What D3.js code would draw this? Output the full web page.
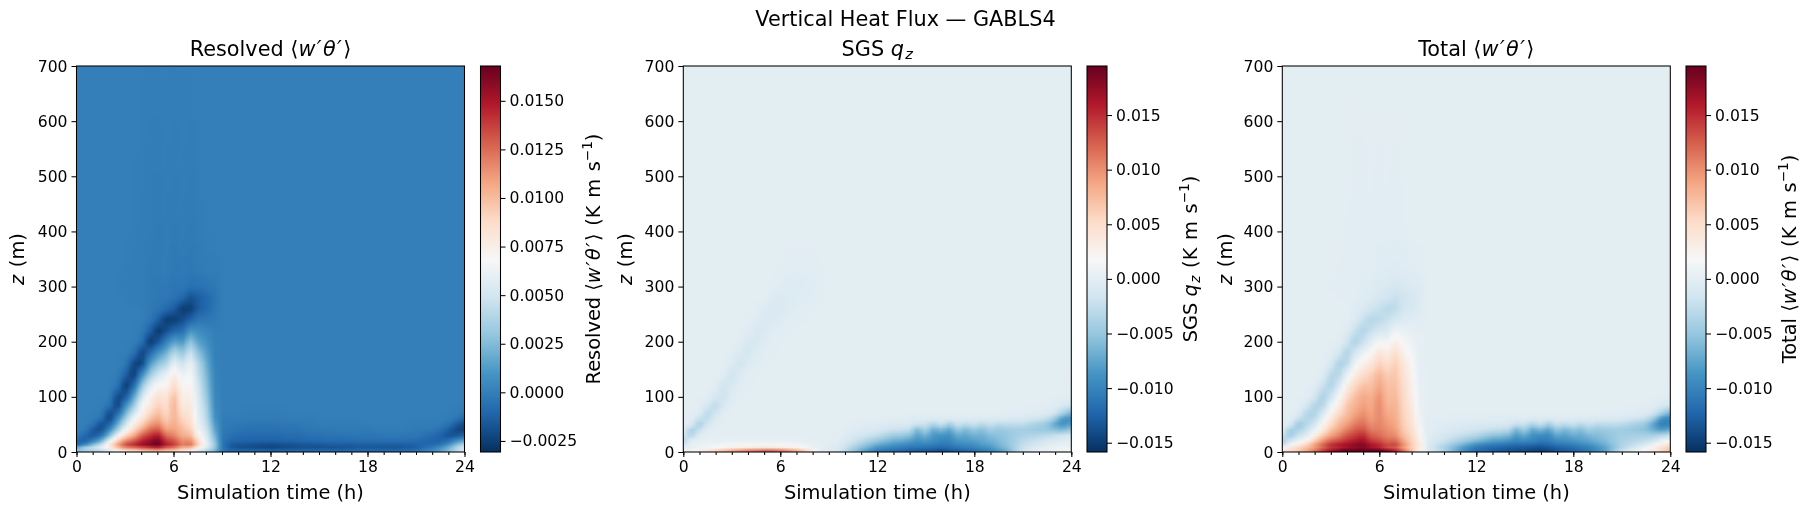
<!DOCTYPE html>
<html>
<head>
<meta charset="utf-8">
<script src="https://cdn.jsdelivr.net/npm/d3@7"></script>
<style>
  html, body { margin: 0; padding: 0; background: #fff; }
  #stage { position: relative; width: 1811px; height: 511px; overflow: hidden; }
  canvas { position: absolute; }
  svg { position: absolute; left: 0; top: 0; }
  text { font-family: "DejaVu Sans", sans-serif; fill: #000; }
</style>
</head>
<body>
<div id="stage"></div>
<script>
// Sampling axes of the flux fields
const timesHours = [0,0.5,1,1.5,2,2.5,3,3.5,4,4.5,5,5.5,6,6.5,7,7.5,8,8.5,9,9.5,10,
  11,12,13,13.5,14,14.5,15,15.5,16,16.5,17,17.5,18,18.5,19,19.5,20,21,22,22.5,23,23.5,24];
const heightsM = [0,6,12,20,30,40,50,60,70,85,100,120,140,160,180,200,220,240,260,280,300,330,400,550,700];

// Resolved flux, 1e-4 K m/s; one row per time, levels above a row's end are zero
const resolvedFlux = [
  [22,32,-10,-10,-2],
  [25,48,10,-14,-10,-2],
  [25,55,30,2,-16,-16,-5,-1],
  [30,62,50,20,-6,-20,-20,-6,-1],
  [40,72,82,60,25,5,-12,-25,-22,-4],
  [52,90,110,92,62,35,18,5,-10,-26,-22,-3],
  [62,108,135,118,88,68,50,35,22,5,-16,-28,-12,-2,0,0,0,0,0,0,-1],
  [70,110,145,130,105,88,75,66,50,30,15,-10,-28,-22,-4,0,0,0,0,-1,-1,-1],
  [78,118,155,145,128,108,92,80,72,66,50,30,5,-25,-24,-5,-1,0,0,-1,-1,-1,-1],
  [82,125,162,155,140,125,110,98,88,78,72,55,32,12,-10,-28,-12,-3,-2,-2,-2,-2,-1,-1],
  [85,132,168,165,150,132,118,108,100,92,85,70,50,28,8,-18,-28,-12,-4,-3,-3,-2,-2,-1],
  [80,118,148,140,125,110,100,92,88,84,80,70,60,38,20,0,-20,-26,-8,-3,-2,-1,-1],
  [78,112,140,132,118,110,106,104,104,104,100,88,78,60,40,15,-10,-26,-14,-5,-4,-3,-2,-1],
  [68,95,120,115,105,100,95,90,85,78,74,70,62,48,30,10,-8,-20,-26,-9,-3,-2,-1],
  [62,90,125,118,102,94,88,84,82,80,76,72,68,62,48,30,10,-12,-26,-18,-6,-3,-2,-1],
  [48,68,92,86,74,66,62,60,58,56,54,50,45,40,28,15,6,-4,-14,-14,-6,-2,-1],
  [36,50,62,60,55,50,46,42,40,36,32,28,24,20,14,8,3,-3,-10,-10,-4,-1],
  [22,30,34,30,24,18,14,10,8,6,5,4,3,2,1,1,0,-2,-4,-5,-3,-1],
  [-2,-3,-4,-4,-3,-2,-1,-1],
  [-5,-14,-16,-10,-6,-3,-2,-1],
  [-4,-18,-18,-11,-8,-5,-3,-1],
  [-4,-20,-20,-12,-9,-6,-4,-2,-1],
  [-4,-22,-22,-12,-9,-6,-4,-2,-1],
  [-4,-20,-20,-11,-8,-5,-3,-1],
  [-4,-19,-19,-11,-8,-5,-3,-1],
  [-4,-18,-18,-10,-7,-4,-2,-1],
  [-3,-18,-18,-9,-6,-3,-2,-1],
  [-3,-18,-17,-9,-6,-3,-1],
  [-3,-18,-16,-8,-5,-3,-1],
  [-3,-18,-16,-8,-5,-2,-1],
  [-3,-18,-15,-8,-5,-2,-1],
  [-3,-17,-15,-8,-4,-2,-1],
  [-3,-16,-15,-7,-4,-2,-1],
  [-3,-16,-15,-7,-4,-2],
  [-3,-16,-15,-7,-4,-1],
  [-3,-17,-15,-7,-3,-1],
  [-3,-17,-15,-7,-3,-1],
  [-3,-17,-15,-7,-3,-1],
  [0,-13,-13,-8,-4,-2,-1],
  [8,2,-8,-12,-8,-3,-1],
  [15,12,-2,-12,-12,-7,-2],
  [25,25,12,-6,-18,-14,-5,-1],
  [40,42,30,8,-16,-22,-16,-5,-1],
  [50,58,45,18,-10,-24,-22,-12,-3]
];

// Subgrid flux, 1e-4 K m/s; same layout as the resolved rows
const sgsFlux = [
  [10,2,-12,-36,-14,-2],
  [20,4,5,1,-36,-42,-7],
  [40,8,8,2,-3,-22,-44,-22,-3,-1],
  [60,14,10,3,0,-2,-12,-28,-32,-10,-1],
  [85,20,12,3,1,0,-1,-5,-16,-30,-12,-1],
  [105,26,15,4,1,0,0,0,-1,-10,-19,-17,-2],
  [125,32,18,4,1,0,0,0,0,-1,-3,-10,-19,-6,-1],
  [140,38,18,4,1,0,0,0,0,0,-1,-2,-6,-16,-7,-1],
  [155,45,18,4,1,0,0,0,0,0,0,-1,-2,-6,-14,-10,-2,-1],
  [165,48,18,4,1,0,0,0,0,0,0,0,-1,-2,-5,-11,-10,-3,-1],
  [175,50,18,4,1,0,0,0,0,0,0,0,0,-1,-2,-4,-8,-10,-4,-1],
  [175,48,18,4,1,0,0,0,0,0,0,0,0,0,-1,-2,-3,-7,-9,-4,-1],
  [165,42,18,4,1,0,0,0,0,0,0,0,0,0,0,-1,-2,-4,-8,-8,-3,-1],
  [150,36,18,4,1,0,0,0,0,0,0,0,0,0,0,0,-1,-2,-4,-6,-6,-2],
  [125,30,16,3,1,0,0,0,0,0,0,0,0,0,0,0,0,-1,-2,-4,-6,-2],
  [95,20,12,2,0,0,0,0,0,0,0,0,0,0,0,0,0,-1,-1,-3,-4,-2],
  [50,8,5,1,0,0,0,0,0,0,0,0,0,0,0,0,0,0,-1,-2,-3,-2],
  [5,1,1,0,0,0,0,0,0,0,0,0,0,0,0,0,0,0,0,-1,-2,-1],
  [-5,-3,-1],
  [-12,-8,-5,-2,-1],
  [-30,-22,-15,-8,-4,-1],
  [-75,-60,-45,-28,-14,-6,-3],
  [-115,-92,-75,-50,-25,-10,-4,-1],
  [-125,-105,-90,-70,-45,-20,-8,-3],
  [-130,-110,-95,-72,-48,-22,-8,-3],
  [-135,-115,-100,-80,-55,-28,-10,-3,-1],
  [-138,-118,-102,-90,-78,-62,-20,-4,-1],
  [-140,-118,-105,-85,-66,-42,-20,-5,-1],
  [-145,-122,-108,-92,-85,-72,-38,-6,-1],
  [-150,-125,-112,-100,-88,-62,-22,-5,-1],
  [-142,-120,-108,-98,-90,-76,-45,-7,-1],
  [-135,-115,-100,-85,-70,-48,-20,-4],
  [-130,-110,-96,-84,-75,-62,-30,-5],
  [-125,-105,-92,-80,-66,-50,-20,-6],
  [-115,-98,-84,-74,-68,-58,-32,-6],
  [-105,-90,-78,-68,-58,-42,-22,-6],
  [-90,-75,-66,-60,-55,-50,-30,-7],
  [-75,-62,-55,-52,-50,-45,-28,-8,-1],
  [-15,-20,-25,-30,-38,-42,-28,-10,-2],
  [5,0,-8,-18,-32,-48,-42,-18,-4,-1],
  [8,4,-3,-12,-28,-48,-50,-25,-6,-1],
  [12,8,3,-8,-22,-55,-75,-50,-15,-3,-1],
  [15,10,5,-3,-15,-60,-90,-90,-40,-8,-1],
  [25,12,6,0,-12,-45,-75,-90,-65,-14,-3,-1]
];

// Total flux is the sum of the two parts
const totalFlux = resolvedFlux.map((row, i) =>
  heightsM.map((_, k) => (row[k] || 0) + (sgsFlux[i][k] || 0)));

// Tick values
const timeTicks = [0, 6, 12, 18, 24];
const timeMinorTicks = d3.range(0, 25);
const heightTicks = [0, 100, 200, 300, 400, 500, 600, 700];
const resolvedColorTicks = [-0.0025, 0, 0.0025, 0.005, 0.0075, 0.01, 0.0125, 0.015];
const partColorTicks = [-0.015, -0.01, -0.005, 0, 0.005, 0.01, 0.015];

// Matplotlib RdBu_r anchor colours
const rdbuColors = ["#053061","#2166ac","#4393c3","#92c5de","#d1e5f0","#f7f7f7","#fddbc7","#f4a582","#d6604d","#b2182b","#67001f"];

// Text runs: 0 plain, 1 oblique, 2 oblique subscript
const panels = [
  { left: 76.5, bar: 480.5, field: resolvedFlux, vmin: -0.00307, vmax: 0.01679, ticks: resolvedColorTicks, digits: 4,
    title: [["Resolved ⟨",0],["w′θ′",1],["⟩",0]], zX: 24, barX: 600,
    barLabel: [["Resolved ⟨",0],["w′θ′",1],["⟩ (K m s",0]] },
  { left: 683.3, bar: 1087, field: sgsFlux, vmin: -0.01585, vmax: 0.01949, ticks: partColorTicks, digits: 3,
    title: [["SGS ",0],["q",1],["z",2]], zX: 632, barX: 1197,
    barLabel: [["SGS ",0],["q",1],["z",2],[" (K m s",0]] },
  { left: 1282.3, bar: 1686, field: totalFlux, vmin: -0.01585, vmax: 0.01949, ticks: partColorTicks, digits: 3,
    title: [["Total ⟨",0],["w′θ′",1],["⟩",0]], zX: 1232, barX: 1796,
    barLabel: [["Total ⟨",0],["w′θ′",1],["⟩ (K m s",0]] }
];

const plotW = 388, plotH = 386, plotTop = 66, barW = 20;
const cellsX = 97, cellsY = 129;
const tickFont = 15.6, labelFont = 19.4, titleFont = 20.8;

const stage = d3.select("#stage");
const svg = stage.append("svg").attr("width", 1811).attr("height", 511);

// Writes plain, oblique and subscript runs into a text node
function addRuns(node, runs, size, superscript) {
  let prev = 0;
  runs.forEach(([str, kind]) => {
    const s = node.append("tspan").text(str);
    if (kind === 1) s.attr("font-style", "italic").attr("letter-spacing", 1.4);
    if (kind === 2) s.attr("font-style", "italic").attr("font-size", size * 0.7).attr("dy", size * 0.15);
    if (prev === 2) s.attr("dy", -size * 0.15);
    if (kind === 0 && str.includes("K m")) s.attr("word-spacing", 1.5);
    prev = kind;
  });
  if (superscript) {
    node.append("tspan").attr("font-size", size * 0.7).attr("dy", -size * 0.42).text("−1");
    node.append("tspan").attr("dy", size * 0.42).text(")");
  }
}

function styleAxis(g) {
  g.selectAll("path").attr("stroke", "#000").attr("stroke-width", 1.05);
  g.selectAll("line").attr("stroke", "#000").attr("stroke-width", 1.05);
  g.selectAll("text").attr("font-size", tickFont).attr("fill", "#000");
}

svg.append("text").attr("x", 905.5).attr("y", 26).attr("text-anchor", "middle")
  .attr("font-size", titleFont).text("Vertical Heat Flux — GABLS4");

panels.forEach(p => {
  const x = d3.scaleLinear().domain([0, 24]).range([p.left, p.left + plotW]);
  const y = d3.scaleLinear().domain([0, 700]).range([plotTop + plotH, plotTop]);
  const stops = rdbuColors.map((_, i) => p.vmin + (p.vmax - p.vmin) * i / 10);
  const color = d3.scaleLinear().domain(stops).range(rdbuColors).clamp(true);

  // Fractional position of a time or height inside the sampling axes
  const timeIndex = d3.scaleLinear().domain(timesHours).range(timesHours.map((_, i) => i)).clamp(true);
  const heightIndex = d3.scaleLinear().domain(heightsM).range(heightsM.map((_, i) => i)).clamp(true);
  const at = (i, k) => (p.field[i][k] || 0) * 1e-4;

  // Heat map, shaded between samples the way a gouraud mesh is
  const canvas = stage.insert("canvas", "svg")
    .attr("width", cellsX).attr("height", cellsY)
    .style("left", p.left + "px").style("top", plotTop + "px")
    .style("width", plotW + "px").style("height", plotH + "px");
  const ctx = canvas.node().getContext("2d");
  for (let cx = 0; cx < cellsX; cx++) {
    const tf = timeIndex(x.invert(p.left + (cx + 0.5) * plotW / cellsX));
    const i0 = Math.min(Math.floor(tf), timesHours.length - 2), ft = tf - i0;
    for (let cy = 0; cy < cellsY; cy++) {
      const zf = heightIndex(y.invert(plotTop + (cy + 0.5) * plotH / cellsY));
      const k0 = Math.min(Math.floor(zf), heightsM.length - 2), fz = zf - k0;
      const v = (1 - ft) * ((1 - fz) * at(i0, k0) + fz * at(i0, k0 + 1))
              + ft * ((1 - fz) * at(i0 + 1, k0) + fz * at(i0 + 1, k0 + 1));
      ctx.fillStyle = color(v);
      ctx.fillRect(cx, cy, 1, 1);
    }
  }

  // Frame and axes
  svg.append("rect").attr("x", p.left).attr("y", plotTop).attr("width", plotW).attr("height", plotH)
    .attr("fill", "none").attr("stroke", "#000").attr("stroke-width", 1.05);

  const minor = svg.append("g").attr("transform", `translate(0,${plotTop + plotH})`)
    .call(d3.axisBottom(x).tickValues(timeMinorTicks).tickSize(3).tickFormat(""));
  minor.select("path").remove();
  styleAxis(minor);

  const xAxis = svg.append("g").attr("transform", `translate(0,${plotTop + plotH})`)
    .call(d3.axisBottom(x).tickValues(timeTicks).tickSize(5).tickPadding(4).tickFormat(d3.format("d")));
  xAxis.select("path").remove();
  styleAxis(xAxis);

  const yAxis = svg.append("g").attr("transform", `translate(${p.left},0)`)
    .call(d3.axisLeft(y).tickValues(heightTicks).tickSize(5).tickPadding(4).tickFormat(d3.format("d")));
  yAxis.select("path").remove();
  styleAxis(yAxis);

  // Titles and axis labels
  const title = svg.append("text").attr("x", p.left + plotW / 2).attr("y", 56).attr("text-anchor", "middle").attr("font-size", titleFont);
  addRuns(title, p.title, titleFont, false);

  svg.append("text").attr("x", p.left + plotW / 2).attr("y", 499).attr("text-anchor", "middle")
    .attr("font-size", labelFont).text("Simulation time (h)");

  const zLabel = svg.append("text").attr("transform", `translate(${p.zX},${plotTop + plotH / 2}) rotate(-90)`)
    .attr("text-anchor", "middle").attr("font-size", labelFont);
  addRuns(zLabel, [["z",1],[" (m)",0]], labelFont, false);

  // Colour bar
  const barY = d3.scaleLinear().domain([p.vmin, p.vmax]).range([plotTop + plotH, plotTop]);
  svg.append("g").selectAll("rect").data(d3.range(plotH)).join("rect")
    .attr("x", p.bar).attr("y", d => plotTop + d).attr("width", barW).attr("height", 1)
    .attr("fill", d => color(barY.invert(plotTop + d + 0.5)))
    .attr("shape-rendering", "crispEdges");
  svg.append("rect").attr("x", p.bar).attr("y", plotTop).attr("width", barW).attr("height", plotH)
    .attr("fill", "none").attr("stroke", "#000").attr("stroke-width", 1.05);
  const fmt = d3.format("." + p.digits + "f");
  const barAxis = svg.append("g").attr("transform", `translate(${p.bar + barW},0)`)
    .call(d3.axisRight(barY).tickValues(p.ticks).tickSize(5).tickPadding(4).tickFormat(d => fmt(d).replace("-", "−")));
  barAxis.select("path").remove();
  styleAxis(barAxis);

  const barLabel = svg.append("text").attr("transform", `translate(${p.barX},${plotTop + plotH / 2}) rotate(-90)`)
    .attr("text-anchor", "middle").attr("font-size", labelFont);
  addRuns(barLabel, p.barLabel, labelFont, true);
});
</script>
</body>
</html>
